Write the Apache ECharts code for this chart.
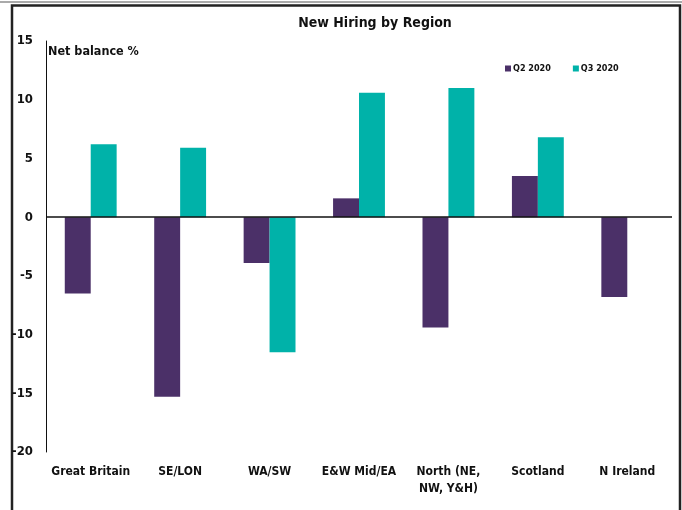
<!DOCTYPE html>
<html>
<head>
<meta charset="utf-8">
<script src="https://cdn.jsdelivr.net/npm/echarts@6/dist/echarts.min.js"></script>
<style>
    html, body { margin: 0; padding: 0; background: #fff; }
    #chart { width: 682px; height: 510px; }
</style>
</head>
<body>
<div id="chart"></div>
<script>
// data
const regions = ["Great Britain", "SE/LON", "WA/SW", "E&W Mid/EA", "North (NE,\nNW, Y&H)", "Scotland", "N Ireland"];
const q2Values = [-6.5, -15.3, -3.9, 1.6, -9.4, 3.5, -6.8];
const q3Values = [6.2, 5.9, -11.5, 10.6, 11.0, 6.8, null];
const yTicks = { min: -20, max: 15, step: 5 };

const font = "'Liberation Sans Narrow', 'Arial Narrow', 'DejaVu Sans Condensed', sans-serif";

const chart = echarts.init(document.getElementById("chart"), null, { renderer: "canvas" });

chart.setOption({
    animation: false,
    backgroundColor: "#fff",
    textStyle: { fontFamily: font },
    title: {
        text: "New Hiring by Region",
        left: 370,
        textAlign: "center",
        top: 11,
        textStyle: { fontFamily: font, fontSize: 14, fontWeight: "bold", color: "#111" }
    },
    legend: {
        left: 500,
        top: 59,
        itemWidth: 6,
        itemHeight: 6,
        itemGap: 22,
        icon: "rect",
        textStyle: { fontFamily: font, fontSize: 9, fontWeight: "bold", color: "#111", padding: [0, 0, 0, -3] },
        data: ["Q2 2020", "Q3 2020"]
    },
    grid: { left: 46, right: 10, top: 41, bottom: 58 },
    xAxis: {
        type: "category",
        data: regions,
        axisLine: { show: false, onZero: false },
        axisTick: { show: false },
        axisLabel: {
            interval: 0,
            margin: 11,
            fontFamily: font,
            fontSize: 12,
            fontWeight: "bold",
            color: "#111",
            lineHeight: 17
        }
    },
    yAxis: {
        type: "value",
        min: yTicks.min,
        max: yTicks.max,
        interval: yTicks.step,
        axisLine: { show: true, lineStyle: { color: "#111", width: 1 } },
        axisTick: { show: false },
        splitLine: { show: false },
        axisLabel: { margin: 13, fontFamily: font, fontSize: 13, fontWeight: "bold", color: "#111" }
    },
    series: [
        {
            name: "Q2 2020",
            type: "bar",
            data: q2Values,
            barGap: "0%",
            barCategoryGap: "42%",
            itemStyle: { color: "#4b3068" },
            markLine: {
                silent: true,
                symbol: "none",
                label: { show: false },
                lineStyle: { color: "#111", width: 1.5, type: "solid" },
                data: [{ yAxis: 0 }]
            }
        },
        {
            name: "Q3 2020",
            type: "bar",
            data: q3Values,
            barGap: "0%",
            barCategoryGap: "42%",
            itemStyle: { color: "#00b2a9" }
        }
    ],
    graphic: [
        {
            type: "text",
            left: 48,
            top: 45,
            style: { text: "Net balance %", fontFamily: font, fontSize: 12.5, fontWeight: "bold", fill: "#111" }
        },
        {
            type: "line",
            shape: { x1: 0, y1: 2, x2: 682, y2: 2 },
            style: { stroke: "#aaa", lineWidth: 2 }
        },
        {
            type: "polyline",
            shape: { points: [[12, 512], [12, 5.5], [680, 5.5], [680, 512]] },
            style: { stroke: "#222", lineWidth: 2.5, fill: null }
        }
    ]
});
</script>
</body>
</html>
